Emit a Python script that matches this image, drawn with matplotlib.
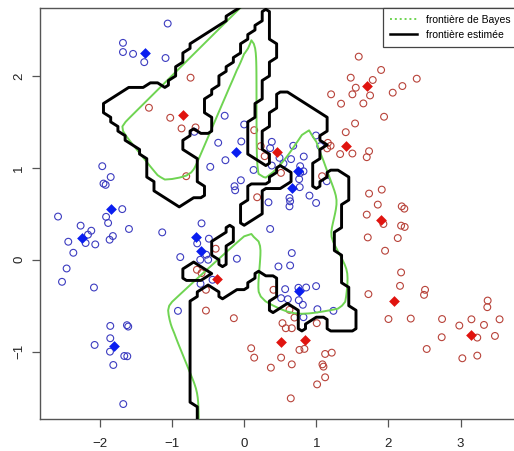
import numpy as np
import matplotlib.pyplot as plt
from matplotlib.lines import Line2D

plt.rcParams['font.family'] = ['Liberation Sans', 'DejaVu Sans']

# training points
blue_x = [-1.06, -1.68, -1.68, -1.54, -1.385, -1.09, -0.27, 0.00, -0.69, -0.36,
          -0.04, -0.26, -0.47, 0.13, -0.046, -0.134, -0.125, -1.967, -1.85, -1.95,
          -1.92, -2.58, -1.69, -1.914, -1.886, -1.597, -2.267, -2.119, -2.165, -2.198,
          -2.064, -2.438, -1.82, -1.865, -2.368, -2.461, -2.525, -2.082, -1.136, -1.856,
          -1.625, -1.607, -1.856, -2.073, -1.86, -1.662, -1.62, -1.814, -1.676, -0.918,
          -0.886, -0.591, -0.651, -0.489, -0.609, -0.526, -0.499, -0.101, -0.605, -0.439,
          0.383, 0.36, 0.68, 0.995, 1.055, 0.49, 0.545, 0.65, 0.826, 0.776,
          0.822, 0.776, 0.762, 0.77, 0.905, 0.997, 0.628, 0.637, 0.628, 0.337,
          1.145, 1.237, 0.36, 0.66, 0.475, 0.637, 0.568, 0.512, 0.605, 0.752,
          0.859, 0.997, 0.757, 0.813, 1.015, 0.822, 0.383]
blue_y = [2.57, 2.36, 2.26, 2.24, 2.15, 2.195, 1.567, 1.472, 1.392, 1.273,
          1.287, 1.083, 1.011, 0.977, 0.865, 0.80, 0.756, 1.018, 0.90, 0.829,
          0.815, 0.47, 0.551, 0.467, 0.40, 0.335, 0.371, 0.316, 0.273, 0.182,
          0.167, 0.196, 0.258, 0.218, 0.076, -0.095, -0.24, -0.302, 0.298, -0.72,
          -0.712, -0.727, -0.854, -0.927, -1.0, -1.047, -1.05, -1.145, -1.57, -0.556,
          0.029, 0.396, 0.178, 0.229, 0.0, 0.055, 0.0, 0.011, -0.262, -0.218,
          1.283, 1.215, 1.24, 1.352, 1.236, 1.109, 1.047, 1.095, 1.123, 1.018,
          0.963, 0.945, 0.877, 0.79, 0.698, 0.618, 0.673, 0.636, 0.581, 0.625,
          0.854, -0.556, 0.335, 0.073, -0.073, -0.062, -0.32, -0.418, -0.429, -0.305,
          -0.302, -0.287, -0.44, -0.49, -0.538, -0.625, 1.025]

red_x = [-0.743, -1.32, -1.025, -0.868, -0.674, -0.803, 0.139, 0.18, -0.395, -0.655,
         -0.591, -0.53, -0.53, -0.143, 0.097, 0.139, 0.23, 0.284, 0.51, 1.16,
         1.198, 1.15, 1.33, 1.5, 1.731, 1.699, 1.08, 1.537, 1.408, 1.939,
         1.205, 1.343, 1.652, 1.50, 1.547, 1.745, 1.477, 1.782, 1.898, 1.588,
         2.059, 2.193, 2.392, 1.731, 1.907, 1.852, 2.184, 2.22, 1.699, 1.93,
         2.175, 2.225, 1.713, 2.129, 1.953, 2.175, 2.16, 2.507, 2.493, 1.722,
         3.375, 3.37, 2.0, 2.309, 2.743, 3.15, 3.54, 2.982, 3.324, 2.738,
         3.231, 3.476, 2.53, 3.024, 3.231, 0.406, 0.628, 0.697, 0.531, 0.577,
         0.66, 1.006, 0.766, 0.835, 0.512, 0.66, 0.37, 1.122, 1.214, 1.085,
         1.099, 1.122, 1.011, 0.646]
red_y = [1.981, 1.654, 1.545, 1.429, 1.44, 0.909, 1.41, 0.68, 0.12, -0.109,
         -0.145, -0.327, -0.553, -0.636, -0.963, -1.065, 1.236, 1.127, 0.945, 1.272,
         1.24, 1.212, 1.15, 1.156, 1.181, 1.116, 0.909, 1.483, 1.388, 1.556,
         1.80, 1.698, 1.701, 1.80, 1.872, 1.788, 1.981, 1.956, 2.065, 2.21,
         1.818, 1.89, 1.97, 0.72, 0.763, 0.60, 0.581, 0.556, 0.491, 0.389,
         0.371, 0.357, 0.243, 0.236, 0.098, -0.138, -0.284, -0.327, -0.382, -0.374,
         -0.444, -0.516, -0.645, -0.64, -0.645, -0.648, -0.648, -0.716, -0.709, -0.843,
         -0.847, -0.829, -0.971, -1.072, -1.043, -0.327, -0.545, -0.629, -0.69, -0.745,
         -0.745, -0.69, -0.981, -0.97, -1.065, -1.138, -1.174, -1.025, -1.011, -1.138,
         -1.163, -1.279, -1.356, -1.508]

# mixture centres (diamonds)
blue_mx = [-1.38, -0.11, -1.85, -2.25, -0.665, -0.605, -1.80, 0.743, 0.665, 0.766]
blue_my = [2.254, 1.17, 0.553, 0.233, 0.247, 0.09, -0.94, 0.963, 0.778, -0.338]
red_mx = [-0.85, 1.708, 1.417, 0.452, -0.383, 1.893, 2.08, 3.15, 0.508, 0.845]
red_my = [1.574, 1.89, 1.243, 1.17, -0.204, 0.436, -0.447, -0.818, -0.894, -0.876]

legend_labels = ["frontière de Bayes", "frontière estimée"]

# grid used for both frontiers
gx1 = np.arange(-2.6, 4.21, 0.1)
gx2 = np.arange(-2.0, 2.91, 0.05)
GX, GY = np.meshgrid(gx1, gx2)


def sqdist(xs, ys):
    return (GX[..., None] - np.array(xs)) ** 2 + (GY[..., None] - np.array(ys)) ** 2


# estimated frontier: 1 nearest neighbour
nn_red = (sqdist(red_x, red_y).min(axis=-1) < sqdist(blue_x, blue_y).min(axis=-1)).astype(float)


# Bayes frontier: gaussian mixture, sd = 1/5
def logdens(mx, my, s2=0.04):
    a = -sqdist(mx, my) / (2 * s2)
    m = a.max(axis=-1, keepdims=True)
    return (m + np.log(np.exp(a - m).sum(axis=-1, keepdims=True)))[..., 0]


bayes = logdens(red_mx, red_my) - logdens(blue_mx, blue_my)

fig = plt.figure(figsize=(5.14, 4.51), dpi=100)
ax = fig.add_axes([40 / 514, 1 - 419.3 / 451, 477.6 / 514, 411 / 451])

ax.scatter(blue_x, blue_y, s=24, facecolors='none', edgecolors='#3c3cc0', linewidths=0.8, zorder=2)
ax.scatter(red_x, red_y, s=24, facecolors='none', edgecolors='#b8433a', linewidths=0.8, zorder=2)

ax.contour(GX, GY, bayes, levels=[0], colors='#6fd452', linewidths=1.4, zorder=3)
ax.contour(GX, GY, nn_red, levels=[0.5], colors='black', linewidths=2.1, zorder=4)

ax.scatter(blue_mx, blue_my, s=30, marker='D', color='#0a1ef0', linewidths=0, zorder=5)
ax.scatter(red_mx, red_my, s=30, marker='D', color='#e0140f', linewidths=0, zorder=5)

ax.set_xlim(-2.83, 3.79)
ax.set_ylim(-1.736, 2.736)
ax.set_xticks([-2, -1, 0, 1, 2, 3])
ax.set_yticks([-1, 0, 1, 2])
for s in ax.spines.values():
    s.set_color('#555555')
    s.set_linewidth(1.0)
ax.tick_params(direction='out', length=5.5, width=0.9, color='#555555',
               labelsize=9.5, labelcolor='#222222')
ax.tick_params(axis='x', pad=8)
ax.tick_params(axis='y', pad=5)
for lab in ax.get_yticklabels():
    lab.set_rotation(90)
    lab.set_va('center')

handles = [Line2D([0], [0], color='#6fd452', lw=1.4, ls=(0, (1, 1.5))),
           Line2D([0], [0], color='black', lw=1.8)]
leg = ax.legend(handles, legend_labels, loc='upper right', bbox_to_anchor=(1, 1),
                borderaxespad=0, fancybox=False, framealpha=1, edgecolor='#444444',
                fontsize=7.5, handlelength=2.6, handletextpad=0.9, labelspacing=0.45,
                borderpad=0.65)
leg.get_frame().set_linewidth(0.9)

plt.savefig('out.png', dpi=100)
